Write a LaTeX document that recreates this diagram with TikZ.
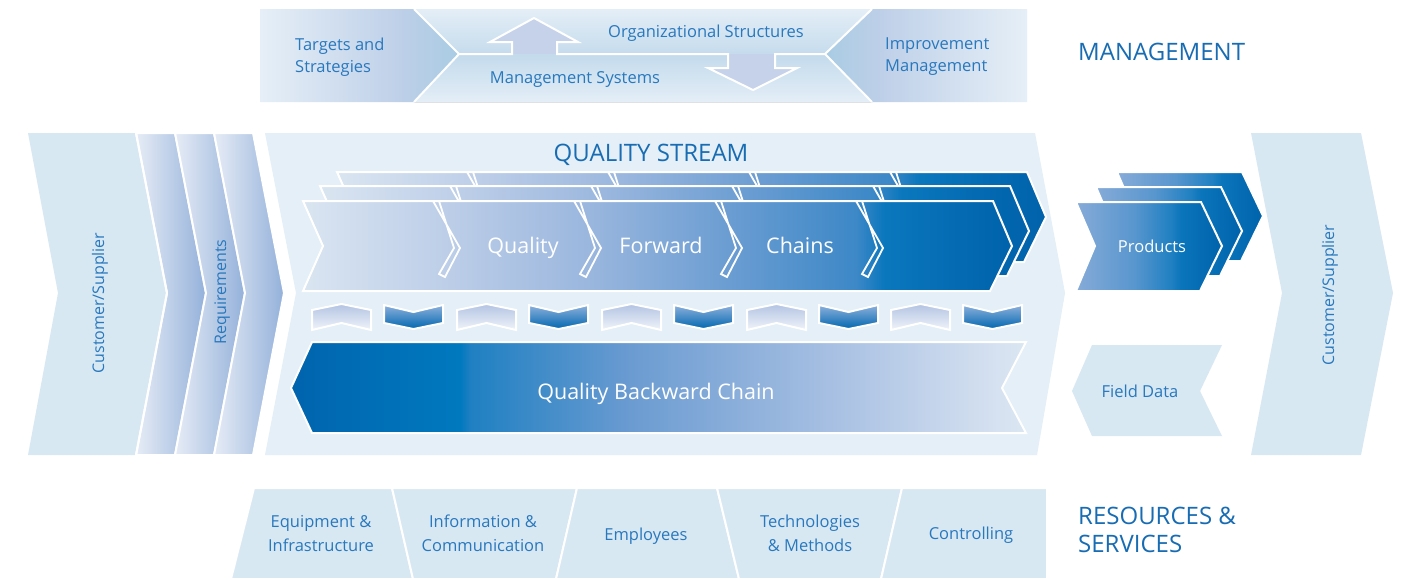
\documentclass[tikz,border=0pt]{standalone}
\usepackage{fontspec}
\setmainfont{Open Sans}

% palette
\definecolor{textblue}{HTML}{2878BE}
\definecolor{headblue}{HTML}{176CB3}
\definecolor{paleband}{HTML}{E4EFF7}
\definecolor{palebox}{HTML}{D8E8F3}
\definecolor{mgA}{HTML}{E4EEF7}
\definecolor{mgB}{HTML}{C4DBEC}
\definecolor{mgEdge}{HTML}{E6EFF7}
\definecolor{mgMid}{HTML}{BDCFE8}
\definecolor{mgTip}{HTML}{A8CCE3}
\definecolor{arrowfill}{HTML}{C5D2EA}
\definecolor{reqA}{HTML}{E6ECF6}
\definecolor{reqB}{HTML}{94B1DA}
\definecolor{fw0}{HTML}{DAE5F1}
\definecolor{fw1}{HTML}{BDCEE8}
\definecolor{fw2}{HTML}{9BB7DE}
\definecolor{fw3}{HTML}{6B9DD2}
\definecolor{fw4}{HTML}{3D88C7}
\definecolor{fw5}{HTML}{0A77BD}
\definecolor{fw6}{HTML}{0062AB}
\definecolor{bw0}{HTML}{0064AD}
\definecolor{bw1}{HTML}{0079BF}
\definecolor{bw2}{HTML}{1F80C2}
\definecolor{bw3}{HTML}{6A9BD1}
\definecolor{bw4}{HTML}{A6BFE2}
\definecolor{bw5}{HTML}{D7E2F1}
\definecolor{bw6}{HTML}{DBE6F2}
\definecolor{pr0}{HTML}{86ABD8}
\definecolor{pr1}{HTML}{5896CE}
\definecolor{pr2}{HTML}{2080C2}
\definecolor{pr3}{HTML}{0A75BB}
\definecolor{pr4}{HTML}{0062AA}
\definecolor{upA}{HTML}{B2C3E2}
\definecolor{upB}{HTML}{F0F4FA}
\definecolor{dnA}{HTML}{8DB0DC}
\definecolor{dnB}{HTML}{0067AF}

% horizontal shadings: 25bp..75bp spans the shaded path
\pgfdeclarehorizontalshading{mgleft}{100bp}{color(0bp)=(mgEdge); color(25bp)=(mgEdge); color(61bp)=(mgMid); color(75bp)=(mgTip); color(100bp)=(mgTip)}
\pgfdeclarehorizontalshading{mgright}{100bp}{color(0bp)=(mgTip); color(25bp)=(mgTip); color(38bp)=(mgMid); color(75bp)=(mgEdge); color(100bp)=(mgEdge)}
\pgfdeclarehorizontalshading{fwdshade}{100bp}{color(0bp)=(fw0); color(25bp)=(fw0); color(35bp)=(fw1); color(45bp)=(fw2); color(55bp)=(fw3); color(64bp)=(fw4); color(66bp)=(fw5); color(75bp)=(fw6); color(100bp)=(fw6)}
\pgfdeclarehorizontalshading{bwdshade}{100bp}{color(0bp)=(bw0); color(25bp)=(bw0); color(36.5bp)=(bw1); color(37.2bp)=(bw2); color(48bp)=(bw3); color(61.5bp)=(bw4); color(73.3bp)=(bw5); color(75bp)=(bw6); color(100bp)=(bw6)}
\pgfdeclarehorizontalshading{prodshade}{100bp}{color(0bp)=(pr0); color(25bp)=(pr0); color(45bp)=(pr1); color(57.5bp)=(pr2); color(61bp)=(pr3); color(75bp)=(pr4); color(100bp)=(pr4)}

\begin{document}
\begin{tikzpicture}[x=1pt,y=-1pt,
  outl/.style={draw=white,line width=2pt,line join=miter},
  sepl/.style={draw=white,line width=1.8pt,line join=miter},
  lbl/.style={text=textblue,font=\fontsize{16.5}{20}\selectfont,inner sep=0pt,anchor=base},
  lblw/.style={lbl,anchor=base west},
  rlbl/.style={text=textblue,font=\fontsize{16}{20}\selectfont,inner sep=0pt,anchor=base,rotate=90},
  head/.style={text=headblue,font=\fontsize{24}{28}\selectfont,inner sep=0pt,anchor=base west},
  wbig/.style={text=white,font=\fontsize{21.5}{26}\selectfont,inner sep=0pt,anchor=base},
  wsmall/.style={text=white,font=\fontsize{16.5}{20}\selectfont,inner sep=0pt,anchor=base}]
\useasboundingbox[fill=white] (0,0) rectangle (1404,579);

% ---------------- management bar ----------------
\fill[top color=mgA,bottom color=mgA,middle color=mgB]
  (414,9) -- (872,9) -- (825,54) -- (872,102) -- (414,102) -- (459,54) -- cycle;
\shade[shading=mgleft] (260,9) -- (414,9) -- (459,54) -- (414,102) -- (260,102) -- cycle;
\shade[shading=mgright] (825,54) -- (872,9) -- (1027,9) -- (1027,102) -- (872,102) -- cycle;
\fill[arrowfill] (512,54) -- (512,42) -- (490,42) -- (534,18) -- (578,42) -- (557,42) -- (557,54) -- cycle;
\fill[arrowfill] (728,54) -- (728,68) -- (708,68) -- (753,90) -- (797,68) -- (775,68) -- (775,54) -- cycle;
\draw[outl,fill=none] (414,9) -- (459,54) -- (414,102);
\draw[outl,fill=none] (872,9) -- (825,54) -- (872,102);
\draw[outl,fill=none] (459,54) -- (512,54) -- (512,42) -- (490,42) -- (534,18) -- (578,42) -- (557,42)
  -- (557,54) -- (728,54) -- (728,68) -- (708,68) -- (753,90) -- (797,68) -- (775,68) -- (775,54) -- (825,54);

\node[lblw] (tgt1) at (295,50) {Targets and};
\node[lblw] (tgt2) at (295,72) {Strategies};
\node[lbl]  (org)  at (706,37) {Organizational Structures};
\node[lbl]  (msys) at (575,83) {Management Systems};
\node[lblw] (imp1) at (885,49) {Improvement};
\node[lblw] (imp2) at (885,71) {Management};
\node[head] (mgmt) at (1078,60) {MANAGEMENT};

% ---------------- customer side and requirements ----------------
\fill[palebox] (28,133) -- (136,133) -- (167,293) -- (136,455) -- (28,455) -- (58,293) -- cycle;
\foreach \k in {0,1,2}{
  \shade[left color=reqA,right color=reqB,draw=white,line width=2pt]
    ({136+39*\k},133) -- ({175+39*\k},133) -- ({206+39*\k},293) -- ({175+39*\k},455)
    -- ({136+39*\k},455) -- ({167+39*\k},293) -- cycle;
}
\draw[outl] (136,133) -- (167,293) -- (136,455);
\node[rlbl] (cust1) at (104,303) {Customer/Supplier};
\node[rlbl] (req)   at (226,292) {Requirements};

% ---------------- quality stream area ----------------
\fill[paleband] (265,133) -- (1035,133) -- (1065,293) -- (1037,455) -- (265,455) -- (296,293) -- cycle;
\node[head,anchor=base] (qs) at (651,161) {QUALITY STREAM};

% forward chains: three stacked rows, back to front
\foreach \dx/\dy in {34/-29,17/-15,0/0}{
  \begin{scope}[shift={(\dx,\dy)}]
    \shade[shading=fwdshade] (303,201) -- (993,201) -- (1012,246) -- (990,291) -- (303,291) -- (323,246) -- cycle;
    \draw[outl] (303,201) -- (993,201) -- (1012,246) -- (990,291) -- (303,291) -- (323,246) -- cycle;
    \foreach \s in {433,574,715,856}
      \draw[sepl] (\s,201) -- (\s+27,248) -- (\s+12,277) -- (\s+6,274) -- (\s+21,248) -- (\s+6,201);
  \end{scope}
}
\node[wbig] (fq) at (523,253) {Quality};
\node[wbig] (ff) at (661,253) {Forward};
\node[wbig] (fc) at (800,253) {Chains};

% feedback markers between the chains
\foreach \x in {312,457,602,747,891}
  \draw[outl,top color=upA,bottom color=upB]
    (\x,310) -- (\x+29.5,304) -- (\x+59,310) -- (\x+59,330) -- (\x+29.5,323) -- (\x,330) -- cycle;
\foreach \x in {384,529,674,819,963}
  \draw[outl,top color=dnA,bottom color=dnB]
    (\x,305) -- (\x+29.5,312) -- (\x+59,305) -- (\x+59,323) -- (\x+29.5,329) -- (\x,323) -- cycle;

% backward chain
\shade[shading=bwdshade] (312,342) -- (1026,342) -- (1002,388) -- (1026,433) -- (312,433) -- (291,388) -- cycle;
\draw[outl] (312,342) -- (1026,342) -- (1002,388) -- (1026,433) -- (312,433) -- (291,388) -- cycle;
\node[wbig] (bq) at (656,399) {Quality Backward Chain};

% ---------------- output side ----------------
\foreach \dx/\dy in {41/-30,20/-15,0/0}{
  \begin{scope}[shift={(\dx,\dy)}]
    \shade[shading=prodshade] (1076,202) -- (1201,202) -- (1222,246) -- (1200,291) -- (1076,291) -- (1095,246) -- cycle;
    \draw[outl] (1076,202) -- (1201,202) -- (1222,246) -- (1200,291) -- (1076,291) -- (1095,246) -- cycle;
  \end{scope}
}
\node[wsmall] (prod) at (1152,252) {Products};

\fill[palebox] (1092,345) -- (1222,345) -- (1200,391) -- (1222,436) -- (1092,436) -- (1072,391) -- cycle;
\node[lbl] (fd) at (1140,397) {Field Data};

\fill[palebox] (1251,133) -- (1361,133) -- (1393,293) -- (1361,455) -- (1251,455) -- (1282,293) -- cycle;
\node[rlbl] (cust2) at (1334,295) {Customer/Supplier};

% ---------------- resources bar ----------------
\fill[palebox,draw=white,line width=2pt] (254,488) -- (392,488) -- (413,579) -- (231,579) -- cycle;
\fill[palebox,draw=white,line width=2pt] (392,488) -- (577,488) -- (556,579) -- (413,579) -- cycle;
\fill[palebox,draw=white,line width=2pt] (577,488) -- (717,488) -- (739,579) -- (556,579) -- cycle;
\fill[palebox,draw=white,line width=2pt] (717,488) -- (902,488) -- (881,579) -- (739,579) -- cycle;
\fill[palebox,draw=white,line width=2pt] (902,488) -- (1047,488) -- (1047,579) -- (881,579) -- cycle;

\node[lbl] (eq1) at (321,527) {Equipment \&};
\node[lbl] (eq2) at (321,551) {Infrastructure};
\node[lbl] (in1) at (483,527) {Information \&};
\node[lbl] (in2) at (483,551) {Communication};
\node[lbl] (emp) at (646,540) {Employees};
\node[lbl] (te1) at (810,527) {Technologies};
\node[lbl] (te2) at (810,551) {\& Methods};
\node[lbl] (ctl) at (971,539) {Controlling};

\node[head] (res1) at (1078,524) {RESOURCES \&};
\node[head] (res2) at (1078,552) {SERVICES};
\end{tikzpicture}
\end{document}
